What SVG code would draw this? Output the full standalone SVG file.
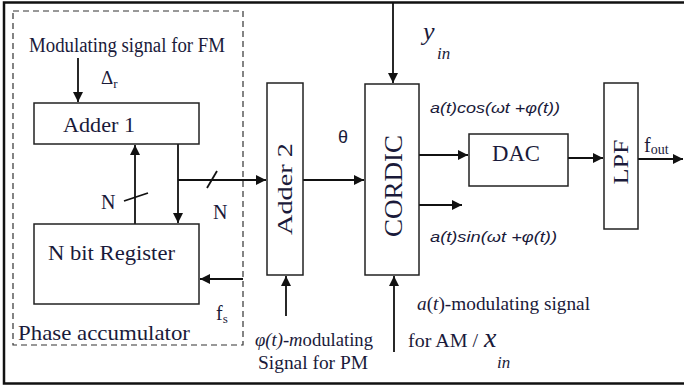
<svg xmlns="http://www.w3.org/2000/svg" width="684" height="389" viewBox="0 0 684 389">
<defs>
<marker id="ah" viewBox="0 0 10 10" refX="10" refY="5" markerWidth="10" markerHeight="10" markerUnits="userSpaceOnUse" orient="auto">
<path d="M0,0 L10,5 L0,10 z" fill="#111"/>
</marker>
</defs>
<style>
.box{fill:#fff;stroke:#222;stroke-width:1.5}
.ln{fill:none;stroke:#111;stroke-width:1.8}
.ar{fill:none;stroke:#111;stroke-width:1.8;marker-end:url(#ah)}
.t{font-family:'Liberation Serif','Times New Roman',serif;fill:#1a1a3a}
.i{font-family:'Liberation Sans',Arial,sans-serif;font-style:italic;fill:#1a1a3a}
.s{font-family:'Liberation Sans',Arial,sans-serif;fill:#1a1a3a}
</style>
<rect width="684" height="389" fill="#fff"/>
<path d="M684,2.5 H4 V383.5 H684" fill="none" stroke="#111" stroke-width="2.5"/>
<rect x="13" y="11" width="230" height="334" fill="none" stroke="#333" stroke-width="1.2" stroke-dasharray="6,4"/>
<g id="connectors">
<line class="ar" x1="78" y1="58" x2="78" y2="102"/>
<line class="ar" x1="135" y1="224" x2="135" y2="145"/>
<line class="ln" x1="124" y1="201" x2="148" y2="193"/>
<line class="ar" x1="178" y1="144" x2="178" y2="223"/>
<line class="ar" x1="178" y1="180" x2="266" y2="180"/>
<line class="ln" x1="207" y1="188" x2="217" y2="171"/>
<line class="ar" x1="243" y1="279" x2="200" y2="279"/>
<line class="ar" x1="286" y1="316" x2="286" y2="276"/>
<line class="ar" x1="303" y1="180" x2="364" y2="180"/>
<line class="ar" x1="393" y1="3" x2="393" y2="83"/>
<line class="ar" x1="394" y1="352" x2="394" y2="276"/>
<line class="ar" x1="419" y1="155" x2="468" y2="155"/>
<line class="ar" x1="419" y1="205" x2="462" y2="205"/>
<line class="ar" x1="568" y1="158" x2="603" y2="158"/>
<line class="ar" x1="638" y1="159" x2="683" y2="159"/>
</g>
<g id="adder1">
<rect class="box" x="34" y="103" width="165" height="41"/>
<text class="t" x="63" y="132" font-size="22" textLength="72" lengthAdjust="spacingAndGlyphs">Adder 1</text>
</g>
<g id="register">
<rect class="box" x="34" y="224" width="165" height="80"/>
<text class="t" x="48" y="260" font-size="22" textLength="127" lengthAdjust="spacingAndGlyphs">N bit Register</text>
</g>
<g id="adder2">
<rect class="box" x="267" y="83" width="36" height="192"/>
<text class="t" transform="translate(292,189) rotate(-90)" text-anchor="middle" font-size="22" textLength="92" lengthAdjust="spacingAndGlyphs">Adder  2</text>
</g>
<g id="cordic">
<rect class="box" x="365" y="84" width="54" height="191"/>
<text class="t" transform="translate(402,186) rotate(-90)" text-anchor="middle" font-size="25" textLength="102" lengthAdjust="spacingAndGlyphs">CORDIC</text>
</g>
<g id="dac">
<rect class="box" x="469" y="134" width="99" height="52"/>
<text class="t" x="492" y="161" font-size="23" textLength="48" lengthAdjust="spacingAndGlyphs">DAC</text>
</g>
<g id="lpf">
<rect class="box" x="604" y="83" width="34" height="146"/>
<text class="t" transform="translate(628,162) rotate(-90)" text-anchor="middle" font-size="22" textLength="45" lengthAdjust="spacingAndGlyphs">LPF</text>
</g>
<g id="labels">
<text class="t" x="29" y="52" font-size="20" textLength="196" lengthAdjust="spacingAndGlyphs">Modulating signal for FM</text>
<text class="t" x="101" y="84" font-size="19">Δ<tspan font-size="13" dy="4">r</tspan></text>
<text class="t" x="101" y="209" font-size="20">N</text>
<text class="t" x="213" y="219" font-size="20">N</text>
<text class="t" x="216" y="320" font-size="20">f<tspan font-size="13" dy="3">s</tspan></text>
<text class="t" x="18" y="340" font-size="22" textLength="172" lengthAdjust="spacingAndGlyphs">Phase accumulator</text>
<text class="s" x="338" y="143" font-size="18">θ</text>
<text class="t" x="423" y="40" font-size="26" font-style="italic">y</text>
<text class="t" x="437" y="59" font-size="17" font-style="italic">in</text>
<text class="i" x="430" y="113" font-size="15" textLength="130" lengthAdjust="spacingAndGlyphs">a(t)cos(ωt +φ(t))</text>
<text class="i" x="430" y="242" font-size="15" textLength="127" lengthAdjust="spacingAndGlyphs">a(t)sin(ωt +φ(t))</text>
<text class="t" x="417" y="310" font-size="19" textLength="173" lengthAdjust="spacingAndGlyphs"><tspan font-style="italic">a</tspan>(<tspan font-style="italic">t</tspan>)-modulating signal</text>
<text class="t" x="408" y="347" font-size="19" textLength="70" lengthAdjust="spacingAndGlyphs">for AM /</text>
<text class="t" x="484" y="347" font-size="28" font-style="italic">x</text>
<text class="t" x="497" y="368" font-size="17" font-style="italic">in</text>
<text class="t" x="255" y="346" font-size="19" textLength="118" lengthAdjust="spacingAndGlyphs"><tspan font-style="italic">φ(t)-m</tspan>odulating</text>
<text class="t" x="258" y="369" font-size="19" textLength="110" lengthAdjust="spacingAndGlyphs">Signal for PM</text>
<text class="t" x="644" y="152" font-size="20">f<tspan font-size="14" dy="2">out</tspan></text>
</g>
</svg>
